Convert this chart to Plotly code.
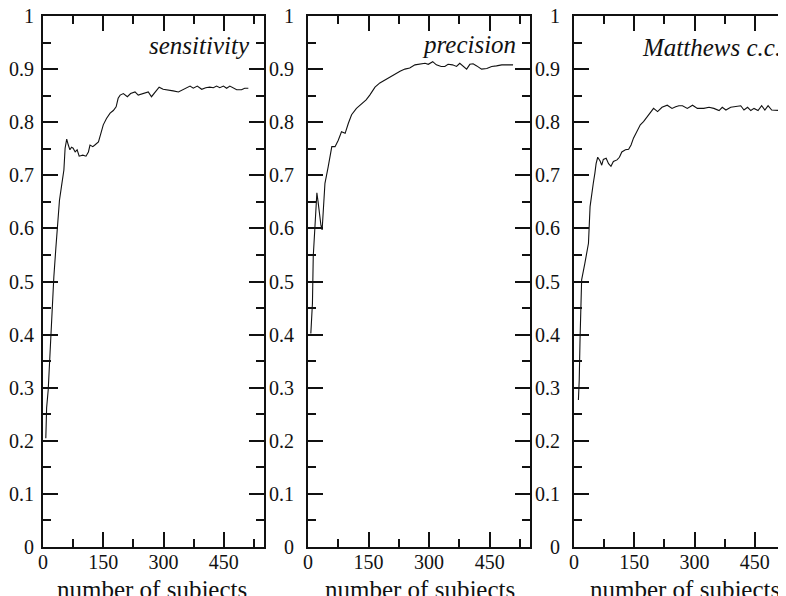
import plotly.graph_objects as go

# page body adds an 8px margin; the figure is made a little larger than the
# window so the third panel can run off the right edge as in the reference
W, H = 810, 612
OFF = 8

# ---------------- data ----------------
sens_x = [7, 9, 13, 16, 19, 24, 27, 32, 36, 41, 46, 52, 55, 59, 63, 67, 71, 75, 80, 85, 90,
          99, 107, 113, 117, 124, 129, 138, 143, 150, 158, 167, 175, 182, 187, 192, 200,
          210, 218, 229, 237, 250, 262, 270, 279, 289, 299, 312, 324, 337, 349, 357, 366,
          374, 384, 395, 405, 415, 424, 432, 440, 449, 457, 465, 473, 482, 494, 502, 511]
sens_y = [0.205, 0.262, 0.296, 0.340, 0.403, 0.456, 0.509, 0.563, 0.603, 0.653, 0.679, 0.710,
          0.751, 0.768, 0.757, 0.748, 0.753, 0.751, 0.744, 0.748, 0.736, 0.738, 0.736, 0.744,
          0.757, 0.754, 0.757, 0.763, 0.776, 0.795, 0.807, 0.817, 0.822, 0.829, 0.845, 0.851,
          0.854, 0.848, 0.854, 0.857, 0.851, 0.854, 0.857, 0.848, 0.857, 0.866, 0.862, 0.861,
          0.859, 0.857, 0.862, 0.865, 0.868, 0.864, 0.868, 0.862, 0.865, 0.866, 0.865, 0.868,
          0.865, 0.868, 0.864, 0.868, 0.865, 0.861, 0.861, 0.864, 0.864]

prec_x = [7, 9, 11, 13, 16, 20, 22, 25, 28, 32, 35, 38, 42, 50, 59, 67, 75, 83, 92, 100, 108,
          120, 133, 144, 153, 166, 178, 191, 203, 215, 228, 240, 252, 265, 277, 290, 298,
          309, 318, 330, 339, 347, 358, 368, 376, 384, 393, 401, 409, 418, 430, 443, 455,
          467, 480, 492, 508]
prec_y = [0.402, 0.437, 0.459, 0.547, 0.591, 0.635, 0.667, 0.650, 0.628, 0.606, 0.597, 0.628,
          0.685, 0.716, 0.754, 0.754, 0.766, 0.782, 0.779, 0.798, 0.814, 0.826, 0.834, 0.842,
          0.851, 0.866, 0.874, 0.880, 0.885, 0.890, 0.896, 0.900, 0.902, 0.908, 0.910, 0.911,
          0.909, 0.914, 0.908, 0.905, 0.905, 0.909, 0.908, 0.905, 0.911, 0.906, 0.900, 0.909,
          0.910, 0.906, 0.900, 0.901, 0.905, 0.906, 0.908, 0.908, 0.908]

mcc_x = [11, 13, 15, 17, 19, 27, 36, 40, 44, 48, 52, 55, 59, 65, 69, 73, 80, 86, 92, 98, 107,
         113, 119, 128, 136, 142, 148, 157, 165, 173, 182, 190, 198, 208, 219, 232, 244,
         253, 261, 270, 282, 295, 307, 323, 336, 348, 361, 369, 378, 390, 403, 415, 423,
         432, 440, 448, 458, 467, 475, 483, 492, 503, 515]
mcc_y = [0.277, 0.314, 0.390, 0.465, 0.503, 0.534, 0.572, 0.641, 0.666, 0.685, 0.704, 0.722,
         0.734, 0.727, 0.719, 0.730, 0.732, 0.722, 0.717, 0.726, 0.729, 0.734, 0.744, 0.748,
         0.749, 0.757, 0.770, 0.785, 0.795, 0.801, 0.810, 0.820, 0.826, 0.820, 0.828, 0.832,
         0.826, 0.829, 0.831, 0.831, 0.826, 0.832, 0.826, 0.826, 0.828, 0.826, 0.822, 0.828,
         0.823, 0.828, 0.829, 0.831, 0.823, 0.828, 0.822, 0.826, 0.822, 0.831, 0.823, 0.831,
         0.823, 0.822, 0.822]

panel_labels = ["sensitivity", "precision", "Matthews c.c."]
x_title = "number of subjects"
x_ticks = [0, 150, 300, 450]
x_minor = [75, 225, 375, 525]
y_ticks = [0, 0.1, 0.2, 0.3, 0.4, 0.5, 0.6, 0.7, 0.8, 0.9, 1.0]
y_ticktext = ["0", "0.1", "0.2", "0.3", "0.4", "0.5", "0.6", "0.7", "0.8", "0.9", "1"]
y_minor = [0.05, 0.15, 0.25, 0.35, 0.45, 0.55, 0.65, 0.75, 0.85, 0.95]

# ---------------- layout helpers (arguments are screen pixels) ----------------
def fx(px):
    return (px - OFF) / W

def fy(py):
    return 1 - (py - OFF) / H

FONT = "Liberation Serif, Times New Roman, Times, serif"
INK = "#111111"
ydom = [fy(547), fy(16)]
panels = [
    dict(x0=43, x1=264, standoff=3, lab_x=252, lab_b=53, title_c=152),
    dict(x0=308, x1=530, standoff=8, lab_x=518, lab_b=52, title_c=420),
    dict(x0=574, x1=795, standoff=8, lab_x=783, lab_b=55, title_c=685),
]

fig = go.Figure()
series = [(sens_x, sens_y), (prec_x, prec_y), (mcc_x, mcc_y)]
for i, (xs, ys) in enumerate(series):
    sfx = "" if i == 0 else str(i + 1)
    fig.add_trace(go.Scatter(x=xs, y=ys, mode="lines", xaxis="x" + sfx, yaxis="y" + sfx,
                             line=dict(color=INK, width=1.1), showlegend=False,
                             hoverinfo="skip"))

common_tick = dict(ticks="inside", ticklen=15, tickwidth=2, tickcolor=INK,
                   showline=True, linewidth=2, linecolor=INK, showgrid=False,
                   zeroline=False, automargin=False, mirror="ticks",
                   ticklabeloverflow="allow",
                   tickfont=dict(family=FONT, size=20, color=INK))

layout = dict(width=W, height=H, margin=dict(l=0, r=0, t=0, b=0, autoexpand=False),
              paper_bgcolor="white", plot_bgcolor="white", showlegend=False)

annotations = []
for i, p in enumerate(panels):
    sfx = "" if i == 0 else str(i + 1)
    layout["xaxis" + sfx] = dict(
        domain=[fx(p["x0"]), fx(p["x1"])], range=[0, 550], anchor="y" + sfx,
        tickvals=x_ticks, ticklabelstandoff=-4,
        minor=dict(tickvals=x_minor, ticks="inside", ticklen=8, tickwidth=2, tickcolor=INK),
        **common_tick)
    layout["yaxis" + sfx] = dict(
        domain=ydom, range=[0, 1], anchor="x" + sfx,
        tickvals=y_ticks, ticktext=y_ticktext, ticklabelstandoff=p["standoff"],
        minor=dict(tickvals=y_minor, ticks="inside", ticklen=8, tickwidth=2, tickcolor=INK),
        **common_tick)
    annotations.append(dict(text=panel_labels[i], xref="paper", yref="paper",
                            x=fx(p["lab_x"]), y=fy(p["lab_b"] - 8), xanchor="right",
                            yanchor="middle", showarrow=False,
                            font=dict(family=FONT, size=25, color=INK, style="italic")))
    annotations.append(dict(text=x_title, xref="paper", yref="paper",
                            x=fx(p["title_c"]), y=fy(589), xanchor="center",
                            yanchor="middle", showarrow=False,
                            font=dict(family=FONT, size=25, color=INK)))

layout["annotations"] = annotations
fig.update_layout(**layout)

fig.write_html("out.html")
